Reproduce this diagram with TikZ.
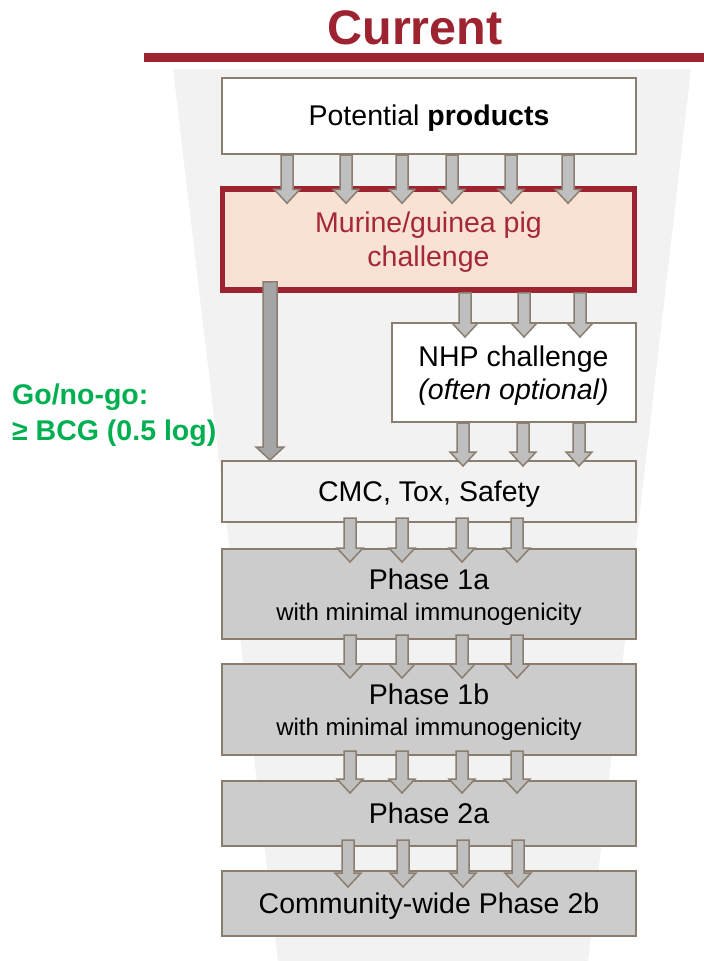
\documentclass[tikz,border=0pt]{standalone}
\usepackage{fontspec}
\setmainfont{Liberation Sans}
\usetikzlibrary{calc}
\definecolor{funnel}{RGB}{242,242,242}
\definecolor{darkred}{RGB}{158,35,48}
\definecolor{murtext}{RGB}{165,40,55}
\definecolor{murfill}{RGB}{249,225,212}
\definecolor{edge}{RGB}{138,126,112}
\definecolor{arrfill}{RGB}{191,191,191}
\definecolor{arrdark}{RGB}{165,165,165}
\definecolor{phase}{RGB}{204,204,204}
\definecolor{gogreen}{RGB}{0,176,80}
\tikzset{
  box/.style={draw=edge, line width=2pt, minimum width=414pt, inner sep=0pt, align=center,
    font=\fontsize{28.5}{34}\selectfont},
  blkarrow/.style={draw=edge, line width=1.5pt, fill=arrfill, line join=miter},
  gotext/.style={anchor=base west, inner sep=0pt, text=gogreen, font=\bfseries\fontsize{28.5}{34}\selectfont},
}
\newcommand\lift{\rule[-7pt]{0pt}{33.5pt}}
\newcommand\liftt{\rule{0pt}{26.5pt}}
% #1 style, #2 x, #3 source, #4 target, #5 tip depth below target top, #6 start rise into source
\newcommand\blk[6][]{%
  \draw[blkarrow,#1] let \p1=(#3.south), \p2=(#4.north) in
    (#2pt-6pt,\y1+#6pt) -- (#2pt+6pt,\y1+#6pt) -- (#2pt+6pt,\y2-#5pt+14pt)
    -- (#2pt+13pt,\y2-#5pt+14pt) -- (#2pt,\y2-#5pt) -- (#2pt-13pt,\y2-#5pt+14pt)
    -- (#2pt-6pt,\y2-#5pt+14pt) -- cycle;}
\begin{document}
\begin{tikzpicture}[x=1pt,y=-1pt]
\useasboundingbox (0,0) rectangle (704,961);
\fill[funnel] (173,69) -- (691,69) -- (588,961) -- (278,961) -- cycle;
\fill[darkred] (144,53) rectangle (704,62);
\node[anchor=base, text=darkred, font=\bfseries\fontsize{48.5}{56}\selectfont, inner sep=0pt] (title) at (415,44) {Current};

\node[box, fill=white, minimum height=76pt] (prod) at (429,116) {\lift Potential \textbf{products}};
\node[box, draw=darkred, line width=5.5pt, fill=murfill, text=murtext, minimum width=412pt, minimum height=101pt] (mur) at (428.5,239.5) {\liftt Murine/guinea pig\\challenge};
\node[box, fill=white, minimum width=244pt, minimum height=99pt] (nhp) at (513.5,372.5) {\liftt NHP challenge\\[-1pt]\textit{(often optional)}};
\node[box, fill=funnel, minimum height=61pt] (cmc) at (429,491.5) {\lift CMC, Tox, Safety};
\node[box, fill=phase, minimum height=90pt] (p1a) at (429,594) {\liftt Phase 1a\\[-3pt]{\fontsize{24}{28}\selectfont with minimal immunogenicity}};
\node[box, fill=phase, minimum height=91pt] (p1b) at (429,709.5) {\liftt Phase 1b\\[-3pt]{\fontsize{24}{28}\selectfont with minimal immunogenicity}};
\node[box, fill=phase, minimum height=65pt] (p2a) at (429,813.5) {\lift Phase 2a};
\node[box, fill=phase, minimum height=65pt] (p2b) at (429,903.5) {\lift Community-wide Phase 2b};

\node[gotext] (go1) at (12,404) {Go/no-go:};
\node[gotext] (go2) at (12,440) {≥ BCG (0.5 log)};

\foreach \xx in {287,346,402,452,511,568} {\blk{\xx}{prod}{mur}{17}{0}}
\foreach \xx in {465,524,580} {\blk{\xx}{mur}{nhp}{15}{0}}
\foreach \xx in {463,523,579} {\blk{\xx}{nhp}{cmc}{6}{0}}
\draw[blkarrow, fill=arrdark] let \p1=(mur.south), \p2=(cmc.north) in
  (263pt,\y1+11pt) -- (277pt,\y1+11pt) -- (277pt,\y2+13pt) -- (284pt,\y2+13pt)
  -- (270pt,\y2) -- (256pt,\y2+13pt) -- (263pt,\y2+13pt) -- cycle;
\foreach \xx in {350,402,462,517} {\blk{\xx}{cmc}{p1a}{14}{5}}
\foreach \xx in {350,402,462,517} {\blk{\xx}{p1a}{p1b}{15}{5}}
\foreach \xx in {350,402,462,517} {\blk{\xx}{p1b}{p2a}{13}{5}}
\foreach \xx in {348,403,463,518} {\blk{\xx}{p2a}{p2b}{17}{7}}
\end{tikzpicture}
\end{document}
